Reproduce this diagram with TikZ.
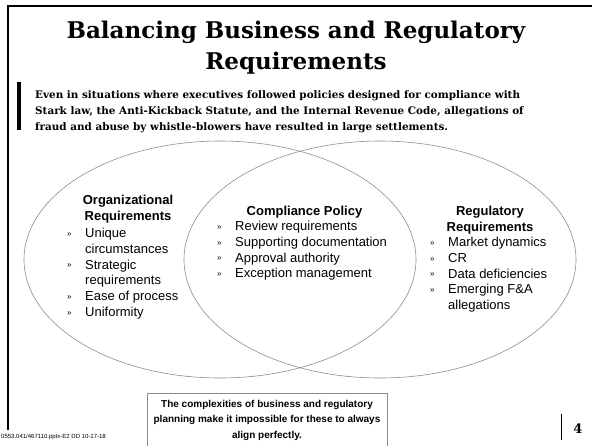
\documentclass[tikz,border=0pt]{standalone}
\usepackage{fontspec}
\setmainfont{Liberation Sans}
\newfontfamily\slabfont{DejaVu Serif}
\usetikzlibrary{calc,positioning}

\newcommand{\bl}{\makebox[18pt][l]{\fontsize{8}{8}\selectfont\raisebox{1.2pt}{»}}}
\newcommand{\nb}{\hspace*{18pt}}

\begin{document}
\begin{tikzpicture}[x=1pt,y=-1pt,inner sep=0pt,
  venn/.style={draw=black!45,line width=0.6pt},
  titletext/.style={font=\slabfont\bfseries\fontsize{23}{31}\selectfont,anchor=base},
  introtext/.style={font=\slabfont\bfseries\fontsize{10.4}{16}\selectfont,anchor=base west},
  heading/.style={font=\bfseries\fontsize{13}{15.8}\selectfont,anchor=base},
  itemlist/.style={font=\fontsize{13}{15.8}\selectfont,anchor=base west},
  notetext/.style={font=\bfseries\fontsize{10}{15.5}\selectfont,anchor=base}]
\useasboundingbox (0,0) rectangle (592,445);
\coordinate (L) at (220,259.5);
\coordinate (R) at (380,259.5);

\draw [line width=2.2pt] (8,430) |- (593,6);
\fill (16.5,82) rectangle (20.5,130);

\node [titletext] (title) at (296,38.5) {\begin{tabular}[t]{@{}c@{}}Balancing Business and Regulatory\\Requirements\end{tabular}};
\node [introtext] (intro) at (35,98) {\begin{tabular}[t]{@{}l@{}}Even in situations where executives followed policies designed for compliance with\\Stark law, the Anti-Kickback Statute, and the Internal Revenue Code, allegations of\\fraud and abuse by whistle-blowers have resulted in large settlements.\end{tabular}};

\draw [venn] (L) ellipse [x radius=196pt, y radius=118.5pt];
\draw [venn] (R) ellipse [x radius=196pt, y radius=118.5pt];

\node [heading] (orghead) at (128,204.5) {\begin{tabular}[t]{@{}c@{}}Organizational\\Requirements\end{tabular}};
\node [itemlist] (orglist) at (67,237.5) {\begin{tabular}[t]{@{}l@{}}\bl Unique\\\nb circumstances\\\bl Strategic\\\nb requirements\\\bl Ease of process\\\bl Uniformity\end{tabular}};

\node [heading] (comphead) at (304.5,215.5) {Compliance Policy};
\node [itemlist] (complist) at (217,230.5) {\begin{tabular}[t]{@{}l@{}}\bl Review requirements\\\bl Supporting documentation\\\bl Approval authority\\\bl Exception management\end{tabular}};

\node [heading] (reghead) at (490,215.5) {\begin{tabular}[t]{@{}c@{}}Regulatory\\Requirements\end{tabular}};
\node [itemlist] (reglist) at (430,246.5) {\begin{tabular}[t]{@{}l@{}}\bl Market dynamics\\\bl CR\\\bl Data deficiencies\\\bl Emerging F\&A\\\nb allegations\end{tabular}};

\node [notetext] (note) at (267,407) {\begin{tabular}[t]{@{}c@{}}The complexities of business and regulatory\\planning make it impossible for these to always\\align perfectly.\end{tabular}};
\draw [black!45,line width=0.7pt] (147,446) |- (387,393) -- (387,446);

\node [font=\fontsize{6}{6}\selectfont,anchor=base west] (docid) at (1,438.5) {0553.041/467110.pptx-E2 DD 10-17-18};
\node [font=\slabfont\bfseries\fontsize{13}{13}\selectfont,anchor=base] (pagenum) at (578,433) {4};
\draw [line width=0.8pt] (561,414) -- (561,440);
\end{tikzpicture}
\end{document}
